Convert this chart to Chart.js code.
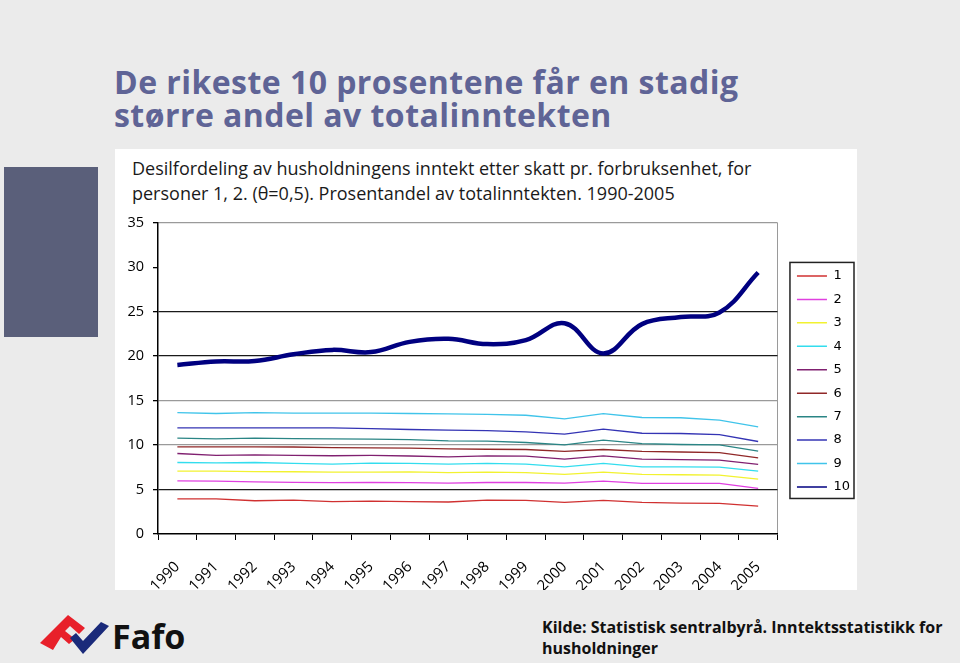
<!DOCTYPE html>
<html>
<head>
<meta charset="utf-8">
<script src="https://cdn.jsdelivr.net/npm/chart.js@4.4.1/dist/chart.umd.min.js"></script>
<style>
  html, body { margin: 0; padding: 0; }
  body { width: 960px; height: 663px; background: #ebebeb; position: relative; overflow: hidden; font-family: "Open Sans", sans-serif; }
  .block { position: absolute; left: 4px; top: 167px; width: 94px; height: 170px; background: #5a5f7a; }
  .title { position: absolute; left: 114px; top: 65px; margin: 0; font-weight: 700; font-size: 32px; line-height: 33px; letter-spacing: 0.45px; color: #5f6496; }
  .panel { position: absolute; left: 115px; top: 149px; width: 742px; height: 441px; background: #fff; }
  .sub { position: absolute; left: 132px; top: 156px; font-size: 18px; line-height: 25px; color: #1a1a1a; }
  #wrap { position: absolute; left: 115px; top: 205px; width: 745px; height: 385px; }
  .source { position: absolute; left: 542px; top: 617px; font-weight: 700; font-size: 16px; line-height: 21px; color: #111; }
  .logo { position: absolute; left: 38px; top: 608px; }
</style>
</head>
<body>
<div class="block"></div>
<h1 class="title">De rikeste 10 prosentene får en stadig<br>større andel av totalinntekten</h1>
<div class="panel"></div>
<div class="sub">Desilfordeling av husholdningens inntekt etter skatt pr. forbruksenhet, for<br>personer 1, 2. (θ=0,5). Prosentandel av totalinntekten. 1990-2005</div>
<div id="wrap"><canvas id="chart"></canvas></div>
<div class="source">Kilde: Statistisk sentralbyrå. Inntektsstatistikk for<br>husholdninger</div>
<svg class="logo" width="152" height="54" viewBox="0 0 152 54">
  <polygon points="2,35 30,7 47,20 41,26 32,18 27,23 37,31 31,36 23,29 15,42" fill="#e8202a"/>
  <polygon points="32,30 38,25 45,33 63,14 71,18 45,46" fill="#1a2a7a"/>
  <text x="74" y="41" font-family="Open Sans, sans-serif" font-weight="700" font-size="34" fill="#111">Fafo</text>
</svg>
<script>
const years = ['1990','1991','1992','1993','1994','1995','1996','1997','1998','1999','2000','2001','2002','2003','2004','2005'];
const decileNames = ['1','2','3','4','5','6','7','8','9','10'];
const decileColors = ['#d03030','#e040e0','#f2f230','#33ddee','#802070','#902828','#2a8585','#3434b4','#40c4ea','#000080'];

const d1  = [3.96, 3.96, 3.74, 3.8, 3.63, 3.7, 3.63, 3.6, 3.8, 3.77, 3.55, 3.77, 3.55, 3.48, 3.45, 3.14];
const d2  = [5.98, 5.95, 5.86, 5.8, 5.77, 5.79, 5.77, 5.72, 5.79, 5.79, 5.72, 5.95, 5.7, 5.7, 5.7, 5.12];
const d3  = [7.07, 7.07, 7.02, 7.0, 6.95, 6.95, 6.98, 6.9, 6.95, 6.9, 6.7, 6.95, 6.7, 6.66, 6.63, 6.17];
const d4  = [8.04, 8.0, 8.04, 7.93, 7.86, 7.97, 7.93, 7.86, 7.93, 7.86, 7.55, 7.93, 7.55, 7.55, 7.52, 7.07];
const d5  = [9.05, 8.83, 8.9, 8.83, 8.8, 8.83, 8.77, 8.68, 8.79, 8.75, 8.41, 8.79, 8.41, 8.36, 8.3, 7.82];
const d6  = [9.8, 9.8, 9.8, 9.78, 9.72, 9.68, 9.65, 9.57, 9.53, 9.5, 9.28, 9.5, 9.28, 9.22, 9.16, 8.56];
const d7  = [10.77, 10.7, 10.78, 10.72, 10.7, 10.66, 10.6, 10.47, 10.45, 10.29, 10.02, 10.55, 10.17, 10.06, 10.02, 9.31];
const d8  = [11.93, 11.93, 11.93, 11.93, 11.93, 11.85, 11.75, 11.67, 11.63, 11.48, 11.22, 11.78, 11.33, 11.3, 11.18, 10.4];
const d9  = [13.65, 13.55, 13.65, 13.6, 13.6, 13.6, 13.55, 13.5, 13.46, 13.35, 12.94, 13.54, 13.1, 13.07, 12.8, 12.04];
const d10 = [19.0, 19.4, 19.45, 20.2, 20.7, 20.45, 21.6, 21.95, 21.35, 21.8, 23.7, 20.3, 23.6, 24.4, 24.9, 29.4];

const yTicks = [0, 5, 10, 15, 20, 25, 30, 35];
const allSeries = [d1, d2, d3, d4, d5, d6, d7, d8, d9, d10];

Chart.defaults.font.family = '"Open Sans", sans-serif';
Chart.defaults.color = '#000';

// grid colours of the original: black at 5/20/25, grey at 10/15/35, nothing at 30
function gridColor(c) {
    const v = c.tick ? c.tick.value : null;
    if (v === 5 || v === 20 || v === 25) return '#1a1a1a';
    if (v === 10 || v === 15 || v === 35) return '#9a9a9a';
    return 'transparent';
}

const legendBorder = {
    id: 'legendBorder',
    afterDraw(chart) {
        const boxes = chart.legend.legendHitBoxes;
        if (!boxes || !boxes.length) return;
        const left = Math.min(...boxes.map(b => b.left)) - 7;
        const top = Math.min(...boxes.map(b => b.top)) - 7;
        const right = Math.max(...boxes.map(b => b.left + b.width)) + 4;
        const bottom = Math.max(...boxes.map(b => b.top + b.height)) + 5;
        const ctx = chart.ctx;
        ctx.save();
        ctx.strokeStyle = '#222';
        ctx.lineWidth = 1.5;
        ctx.strokeRect(left, top, right - left, bottom - top);
        ctx.restore();
    }
};

new Chart(document.getElementById('chart'), {
    type: 'line',
    data: {
        labels: years,
        datasets: allSeries.map((s, i) => ({
            label: decileNames[i],
            data: s,
            borderColor: decileColors[i],
            backgroundColor: decileColors[i],
            borderWidth: i === 9 ? 4.5 : 1.3,
            tension: i === 9 ? 0.4 : 0,
            pointRadius: 0
        }))
    },
    options: {
        responsive: true,
        maintainAspectRatio: false,
        animation: false,
        layout: { padding: { top: 17, right: 0, left: 0, bottom: 0 } },
        plugins: {
            tooltip: { enabled: false },
            legend: {
                position: 'right',
                fullSize: false,
                // empty title only nudges the entries down a little
                title: { display: true, text: '', font: { size: 1 }, padding: { top: 0, bottom: 5 } },
                labels: {
                    usePointStyle: true,
                    pointStyle: 'line',
                    pointStyleWidth: 30,
                    padding: 10.45,
                    font: { family: '"DejaVu Sans", Verdana, sans-serif', size: 13 },
                    color: '#000',
                    generateLabels(chart) {
                        return Chart.defaults.plugins.legend.labels.generateLabels(chart)
                            .map(l => Object.assign(l, { lineWidth: 1.5, pointStyle: 'line' }));
                    }
                }
            }
        },
        scales: {
            x: {
                offset: true,
                afterFit(scale) { scale.height = 56; },
                grid: {
                    offset: true,
                    color: c => c.type === 'tick' ? 'transparent' : '#9a9a9a',
                    tickColor: '#000',
                    tickLength: 6
                },
                border: { color: '#000', width: 1.5 },
                ticks: { minRotation: 45, maxRotation: 45, autoSkip: false, font: { size: 15 }, padding: 18 }
            },
            y: {
                min: 0,
                max: 35,
                afterFit(scale) { scale.width = 43; },
                afterBuildTicks(scale) { scale.ticks = yTicks.map(v => ({ value: v })); },
                grid: { color: gridColor, lineWidth: 1.3, tickColor: '#000', tickLength: 5 },
                border: { color: '#000', width: 1.5 },
                ticks: { font: { size: 14.5 }, padding: 9 }
            },
            spacer: {
                position: 'right',
                afterFit(scale) { scale.width = 9; },
                grid: { display: false },
                border: { display: false },
                ticks: { display: false }
            }
        }
    },
    plugins: [legendBorder]
});
</script>
</body>
</html>
